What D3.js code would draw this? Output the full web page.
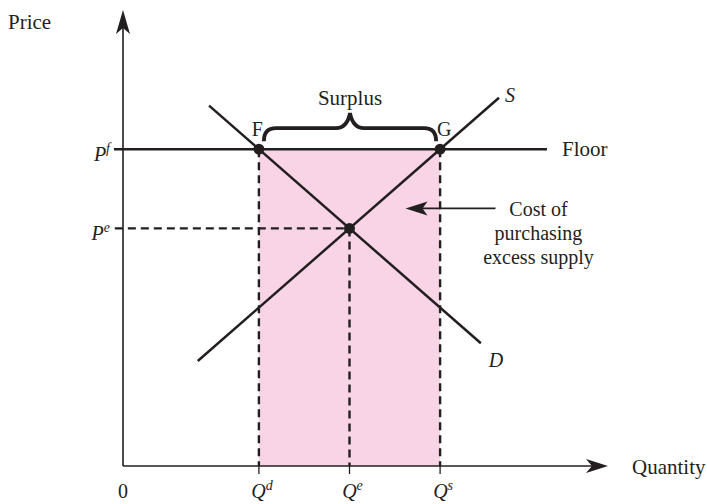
<!DOCTYPE html>
<html>
<head>
<meta charset="utf-8">
<script src="https://cdn.jsdelivr.net/npm/d3@7"></script>
<style>
  body { margin: 0; background: #fff; }
  text { font-family: "Liberation Serif", "DejaVu Serif", serif; fill: #231f20; }
</style>
</head>
<body>
<div id="chart"></div>
<script>
// quantities on the horizontal axis (demanded, equilibrium, supplied)
const qKeys = ["d", "e", "s"];
const qValues = [3, 5, 7];
// prices: equilibrium and floor
const priceKeys = ["e", "f"];
const priceValues = [6, 8];
// curve end points [quantity, price]
const demandLine = [[1.9, 9.1], [7.9, 3.1]];
const supplyLine = [[1.65, 2.65], [8.3, 9.3]];
const floorLine = [[-0.2, 8], [9.36, 8]];
// marked points
const pointLabels = ["F", "G", ""];
const pointQ = [3, 7, 5];
const pointP = [8, 8, 6];

const width = 707;
const height = 504;
const ink = "#231f20";
const margin = { top: 10, right: 99, bottom: 38, left: 123 };

const svg = d3.select("#chart").append("svg")
  .attr("width", width)
  .attr("height", height);

const x = d3.scaleLinear().domain([0, 10]).range([margin.left, margin.left + 453]);
const y = d3.scaleLinear().domain([0, 10]).range([height - margin.bottom, height - margin.bottom - 396]);

const x0 = x(0), y0 = y(0);
const line = d3.line().x(d => x(d[0])).y(d => y(d[1]));

// shaded cost rectangle
svg.append("rect")
  .attr("x", x(qValues[0]))
  .attr("y", y(priceValues[1]))
  .attr("width", x(qValues[2]) - x(qValues[0]))
  .attr("height", y0 - y(priceValues[1]))
  .attr("fill", "#f9d4e6");

// arrow head helper: tip point and direction unit vector
function arrowHead(tx, ty, dx, dy, len, half, notch) {
  const bx = tx - dx * len, by = ty - dy * len;
  const nx = -dy, ny = dx;
  const mx = tx - dx * (len - notch), my = ty - dy * (len - notch);
  return `M${tx},${ty}L${bx + nx * half},${by + ny * half}L${mx},${my}L${bx - nx * half},${by - ny * half}Z`;
}

// axes
const yTop = margin.top;
const xEnd = width - margin.right;
svg.append("line").attr("x1", x0).attr("x2", x0).attr("y1", y0).attr("y2", yTop + 10)
  .attr("stroke", ink).attr("stroke-width", 1.6);
svg.append("line").attr("x1", x0).attr("x2", xEnd - 10).attr("y1", y0).attr("y2", y0)
  .attr("stroke", ink).attr("stroke-width", 1.6);
svg.append("path").attr("d", arrowHead(x0, yTop, 0, -1, 24, 7, 6)).attr("fill", ink);
svg.append("path").attr("d", arrowHead(xEnd, y0, 1, 0, 22, 7, 6)).attr("fill", ink);

// tick marks below the quantity axis
svg.selectAll(".qtick").data(qValues).join("line")
  .attr("x1", d => x(d)).attr("x2", d => x(d))
  .attr("y1", y0).attr("y2", y0 + 8)
  .attr("stroke", ink).attr("stroke-width", 1.3);

// dashed guides
const dash = "8,5";
svg.selectAll(".vguide").data([
  [qValues[0], priceValues[1]], [qValues[1], priceValues[0]], [qValues[2], priceValues[1]]
]).join("line")
  .attr("x1", d => x(d[0])).attr("x2", d => x(d[0]))
  .attr("y1", d => y(d[1])).attr("y2", y0)
  .attr("stroke", ink).attr("stroke-width", 2.4).attr("stroke-dasharray", dash);
svg.append("line")
  .attr("x1", x(-0.18)).attr("x2", x(qValues[1]))
  .attr("y1", y(priceValues[0])).attr("y2", y(priceValues[0]))
  .attr("stroke", ink).attr("stroke-width", 2.4).attr("stroke-dasharray", dash);

// floor, demand, supply
[floorLine, demandLine, supplyLine].forEach(d => {
  svg.append("path").attr("d", line(d))
    .attr("fill", "none").attr("stroke", ink).attr("stroke-width", 2.5);
});

// points
svg.selectAll(".pt").data(pointQ).join("circle")
  .attr("cx", d => x(d)).attr("cy", (d, i) => y(pointP[i]))
  .attr("r", 5.5).attr("fill", ink);

svg.append("text").attr("x", x(pointQ[0]) + 4).attr("y", y(pointP[0]) - 13)
  .attr("text-anchor", "end").attr("font-size", 20).text(pointLabels[0]);
svg.append("text").attr("x", x(pointQ[1]) - 3).attr("y", y(pointP[1]) - 13)
  .attr("font-size", 20).text(pointLabels[1]);

// surplus brace
const bx1 = x(qValues[0]) + 5, bx2 = x(qValues[2]) - 4;
const bc = (bx1 + bx2) / 2, bTop = y(priceValues[1]) - 21, bEnd = y(priceValues[1]) - 8;
svg.append("path")
  .attr("d", `M${bx1},${bEnd}Q${bx1},${bTop} ${bx1 + 12},${bTop}L${bc - 14},${bTop}` +
    `Q${bc - 3},${bTop} ${bc},${bTop - 15}Q${bc + 3},${bTop} ${bc + 14},${bTop}` +
    `L${bx2 - 12},${bTop}Q${bx2},${bTop} ${bx2},${bEnd}`)
  .attr("fill", "none").attr("stroke", ink).attr("stroke-width", 3.8);
svg.append("text").attr("x", bc).attr("y", bTop - 23)
  .attr("text-anchor", "middle").attr("font-size", 21).text("Surplus");

// curve labels
svg.append("text").attr("x", x(supplyLine[1][0]) + 6).attr("y", y(supplyLine[1][1]) + 4)
  .attr("font-size", 20).attr("font-style", "italic").text("S");
svg.append("text").attr("x", x(demandLine[1][0]) + 8).attr("y", y(demandLine[1][1]) + 24)
  .attr("font-size", 20).attr("font-style", "italic").text("D");
svg.append("text").attr("x", x(floorLine[1][0]) + 15).attr("y", y(floorLine[1][1]) + 7)
  .attr("font-size", 21).text("Floor");

// price labels
svg.selectAll(".plab").data(priceValues).join("text")
  .attr("x", x0 - 13).attr("y", d => y(d) + 12)
  .attr("text-anchor", "end").attr("font-size", 20)
  .each(function (d, i) {
    const t = d3.select(this);
    t.append("tspan").attr("font-style", "italic").text("P");
    t.append("tspan").attr("font-style", "italic").attr("font-size", 14)
      .attr("dy", -8).text(priceKeys[i]);
  });

// quantity labels
svg.selectAll(".qlab").data(qValues).join("text")
  .attr("x", d => x(d) + 3).attr("y", y0 + 32)
  .attr("text-anchor", "middle").attr("font-size", 20)
  .each(function (d, i) {
    const t = d3.select(this);
    t.append("tspan").attr("font-style", "italic").text("Q");
    t.append("tspan").attr("font-style", "italic").attr("font-size", 14)
      .attr("dy", -8).text(qKeys[i]);
  });
svg.append("text").attr("x", x0).attr("y", y0 + 32)
  .attr("text-anchor", "middle").attr("font-size", 20).text("0");

// axis titles
svg.append("text").attr("x", 8).attr("y", 29).attr("font-size", 21).text("Price");
svg.append("text").attr("x", xEnd + 24).attr("y", y0 + 8).attr("font-size", 21).text("Quantity");

// annotation arrow
const ay = y(priceValues[0]) - 20;
const atip = x(qValues[1]) + 56, aend = atip + 90;
svg.append("line").attr("x1", atip + 15).attr("x2", aend).attr("y1", ay).attr("y2", ay)
  .attr("stroke", ink).attr("stroke-width", 1.6);
svg.append("path").attr("d", arrowHead(atip, ay, -1, 0, 22, 7, 5)).attr("fill", ink);
svg.append("text").attr("x", aend + 43).attr("y", ay + 8)
  .attr("text-anchor", "middle").attr("font-size", 20)
  .selectAll("tspan").data(["Cost of", "purchasing", "excess supply"]).join("tspan")
  .attr("x", aend + 43).attr("dy", (d, i) => i === 0 ? 0 : 24).text(d => d);
</script>
</body>
</html>
